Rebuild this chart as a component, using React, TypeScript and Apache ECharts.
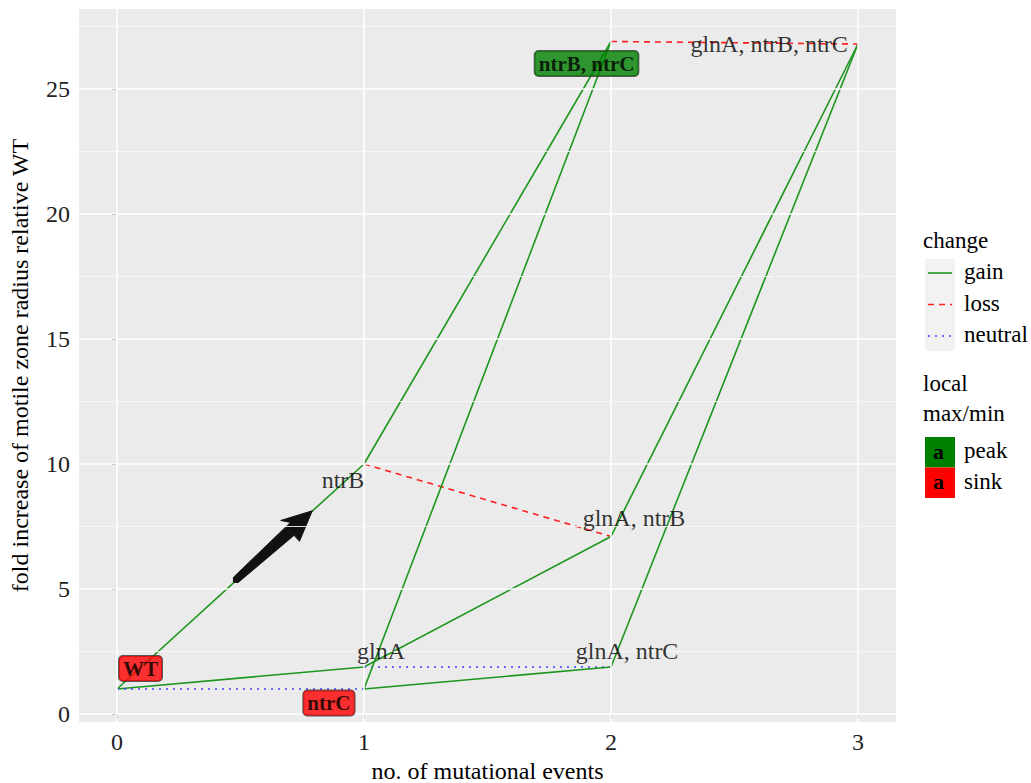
import React, { useEffect, useRef } from "react";
import * as echarts from "echarts";

// ---------- data ----------
const nodeNames = ["WT", "ntrB", "glnA", "ntrC", "glnA, ntrB", "glnA, ntrC", "ntrB, ntrC", "glnA, ntrB, ntrC"];
const nodeX = [0, 1, 1, 1, 2, 2, 2, 3];
const nodeY = [1, 10, 1.88, 1, 7.1, 1.88, 26.9, 26.8];
// node type: peak / sink / none
const nodeType = ["sink", "none", "none", "sink", "none", "none", "peak", "none"];
// label anchor positions (repelled labels)
const labelX = [0.095, 0.915, 1.069, 0.858, 2.093, 2.065, 1.901, 2.64];
const labelY = [1.82, 9.36, 2.52, 0.44, 7.84, 2.52, 26.02, 26.8];

const edgeFrom = [0, 0, 0, 1, 1, 2, 2, 3, 3, 4, 5, 6];
const edgeTo = [1, 2, 3, 6, 4, 4, 5, 6, 5, 7, 7, 7];
const edgeChange = ["gain", "gain", "neutral", "gain", "loss", "gain", "neutral", "gain", "gain", "gain", "gain", "loss"];

const changeNames = ["gain", "loss", "neutral"];
const localNames = ["peak", "sink"];

const xTicks = [0, 1, 2, 3];
const yTicks = [0, 5, 10, 15, 20, 25];
const yMinor = [2.5, 7.5, 12.5, 17.5, 22.5, 27.5];

// arrow (data coords): tail -> tip
const arrowTail = [0.4805, 5.36];
const arrowTip = [0.7907, 8.13];

// ---------- styles ----------
const FONT = "Liberation Serif, Times New Roman, serif";
const changeColor: Record<string, string> = { gain: "#1e961e", loss: "#ff2020", neutral: "#4040ff" };
const changeType: Record<string, any> = { gain: "solid", loss: [6, 5], neutral: [2, 5] };
const localColor: Record<string, string> = { peak: "#008000", sink: "#ff0000" };

export default function App() {
  const ref = useRef<HTMLDivElement>(null);
  useEffect(() => {
    if (!ref.current) return;
    const chart = echarts.init(ref.current, undefined, { renderer: "svg" });

    const gridLeft = 79, gridTop = 9, gridW = 817, gridH = 713;

    const edgeSeries = edgeFrom.map((f, i) => {
      const t = edgeTo[i];
      const c = edgeChange[i];
      return {
        type: "line",
        z: 3,
        silent: true,
        symbol: "none",
        data: [[nodeX[f], nodeY[f]], [nodeX[t], nodeY[t]]],
        lineStyle: { color: changeColor[c], width: 1.6, type: changeType[c] },
      };
    });

    const labelData = nodeNames.map((n, i) => {
      const tp = nodeType[i];
      const boxed = tp !== "none";
      return {
        value: [labelX[i], labelY[i]],
        label: boxed
          ? {
              show: true,
              position: "inside",
              formatter: n,
              fontFamily: FONT,
              fontSize: 21,
              fontWeight: "bold",
              color: "#000",
              backgroundColor: localColor[tp],
              borderColor: "#333",
              borderWidth: 1,
              borderRadius: 4,
              padding: [3, 4, 1, 4],
            }
          : {
              show: true,
              position: "inside",
              formatter: n,
              fontFamily: FONT,
              fontSize: 24,
              color: "#000",
            },
      };
    });

    const gridLines = [
      ...yTicks.map((v) => ({ yAxis: v, lineStyle: { color: "#ffffff", width: 1.6, type: "solid" } })),
      ...yMinor.map((v) => ({ yAxis: v, lineStyle: { color: "#f7f7f7", width: 0.9, type: "solid" } })),
      ...xTicks.map((v) => ({ xAxis: v, lineStyle: { color: "#ffffff", width: 1.6, type: "solid" } })),
    ];

    const option: any = {
      animation: false,
      textStyle: { fontFamily: FONT },
      grid: {
        left: gridLeft,
        top: gridTop,
        width: gridW,
        height: gridH,
        show: true,
        backgroundColor: "#ebebeb",
        borderWidth: 0,
        containLabel: false,
        outerBoundsMode: "none",
      },
      xAxis: {
        type: "value",
        min: -0.154,
        max: 3.154,
        axisLine: { show: false },
        splitLine: { show: false },
        axisTick: { show: true, customValues: xTicks, length: 5, lineStyle: { color: "#333", width: 1 } },
        axisLabel: { customValues: xTicks, fontFamily: FONT, fontSize: 24, color: "#222", margin: 8 },
        name: "no. of mutational events",
        nameLocation: "middle",
        nameGap: 35,
        nameTextStyle: { fontFamily: FONT, fontSize: 24, color: "#000" },
      },
      yAxis: {
        type: "value",
        min: -0.32,
        max: 28.2,
        axisLine: { show: false },
        splitLine: { show: false },
        axisTick: { show: true, customValues: yTicks, length: 5, lineStyle: { color: "#333", width: 1 } },
        axisLabel: { customValues: yTicks, fontFamily: FONT, fontSize: 24, color: "#222", margin: 9 },
        name: "fold increase of motile zone radius relative WT",
        nameLocation: "middle",
        nameGap: 47,
        nameRotate: 90,
        nameTextStyle: { fontFamily: FONT, fontSize: 24, color: "#000" },
      },
      series: [
        {
          type: "line",
          z: 1,
          silent: true,
          symbol: "none",
          data: [],
          markLine: { silent: true, symbol: "none", label: { show: false }, data: gridLines, animation: false },
        },
        ...edgeSeries,
        {
          type: "custom",
          z: 4,
          silent: true,
          renderItem: (_params: any, api: any) => {
            const a = api.coord(arrowTail);
            const b = api.coord(arrowTip);
            const dx = b[0] - a[0], dy = b[1] - a[1];
            const L = Math.sqrt(dx * dx + dy * dy);
            const ux = dx / L, uy = dy / L;
            const nx = -uy, ny = ux;
            const headLen = 30, headW = 14, tailW = 3.5, neckW = 6;
            const base = [b[0] - ux * headLen, b[1] - uy * headLen];
            const neck = [b[0] - ux * (headLen - 6), b[1] - uy * (headLen - 6)];
            const pts = [
              [a[0] + nx * tailW, a[1] + ny * tailW],
              [base[0] + nx * neckW, base[1] + ny * neckW],
              [base[0] + nx * headW, base[1] + ny * headW],
              [b[0], b[1]],
              [base[0] - nx * headW, base[1] - ny * headW],
              [neck[0] - nx * neckW, neck[1] - ny * neckW],
              [a[0] - nx * tailW, a[1] - ny * tailW],
              [a[0] - ux * 3, a[1] - uy * 3],
            ];
            return {
              type: "polygon",
              shape: { points: pts, smooth: 0 },
              style: { fill: "#111", stroke: "#111", lineWidth: 1 },
            };
          },
          data: [[arrowTail[0], arrowTail[1]]],
        },
        {
          type: "scatter",
          z: 5,
          silent: true,
          symbol: "circle",
          symbolSize: 1,
          itemStyle: { color: "rgba(0,0,0,0)" },
          data: labelData,
        },
      ],
      graphic: [
        { type: "text", left: 923, top: 229, style: { text: "change", font: `23px ${FONT}`, fill: "#000" } },
        { type: "rect", shape: { x: 925, y: 259, width: 30, height: 92 }, style: { fill: "#f2f2f2" } },
        ...changeNames.map((c, i) => ({
          type: "line",
          shape: { x1: 928, y1: 273 + i * 31.5, x2: 952, y2: 273 + i * 31.5 },
          style: { stroke: changeColor[c], lineWidth: 1.6, lineDash: c === "gain" ? null : c === "loss" ? [6, 5] : [2, 5] },
        })),
        ...changeNames.map((c, i) => ({
          type: "text",
          left: 964,
          top: 260 + i * 31.5,
          style: { text: c, font: `23px ${FONT}`, fill: "#000" },
        })),
        { type: "text", left: 923, top: 372, style: { text: "local", font: `23px ${FONT}`, fill: "#000" } },
        { type: "text", left: 923, top: 402, style: { text: "max/min", font: `23px ${FONT}`, fill: "#000" } },
        ...localNames.map((c, i) => ({
          type: "rect",
          shape: { x: 925, y: 437 + i * 30.5, width: 30, height: 30.5 },
          style: { fill: localColor[c] },
        })),
        ...localNames.map((c, i) => ({
          type: "text",
          left: 933,
          top: 440 + i * 30.5,
          style: { text: "a", font: `bold 22px ${FONT}`, fill: "#000" },
        })),
        ...localNames.map((c, i) => ({
          type: "text",
          left: 964,
          top: 439 + i * 30.5,
          style: { text: c, font: `23px ${FONT}`, fill: "#000" },
        })),
      ],
    };
    chart.setOption(option);
    return () => chart.dispose();
  }, []);
  return <div ref={ref} style={{ width: 1031, height: 783, position: "absolute", left: 0, top: 0 }} />;
}
